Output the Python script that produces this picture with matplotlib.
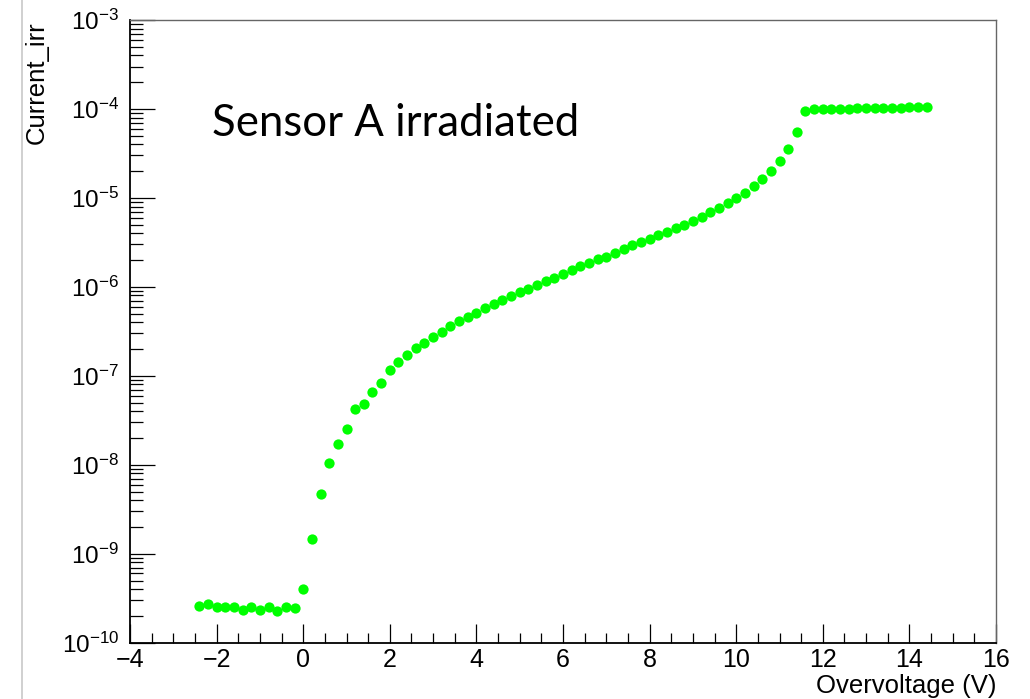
import numpy as np
import matplotlib
matplotlib.use("Agg")
import matplotlib.pyplot as plt
from matplotlib.ticker import LogLocator, MultipleLocator, NullFormatter
from matplotlib.lines import Line2D

# Data
overvoltage = [-2.4, -2.2, -2.0, -1.8, -1.6, -1.4, -1.2, -1.0, -0.8, -0.6, -0.4, -0.2,
               0.0, 0.2, 0.4, 0.6, 0.8, 1.0, 1.2, 1.4, 1.6, 1.8, 2.0, 2.2, 2.4, 2.6, 2.8,
               3.0, 3.2, 3.4, 3.6, 3.8, 4.0, 4.2, 4.4, 4.6, 4.8, 5.0, 5.2, 5.4, 5.6, 5.8,
               6.0, 6.2, 6.4, 6.6, 6.8, 7.0, 7.2, 7.4, 7.6, 7.8, 8.0, 8.2, 8.4, 8.6, 8.8,
               9.0, 9.2, 9.4, 9.6, 9.8, 10.0, 10.2, 10.4, 10.6, 10.8, 11.0, 11.2, 11.4,
               11.6, 11.8, 12.0, 12.2, 12.4, 12.6, 12.8, 13.0, 13.2, 13.4, 13.6, 13.8,
               14.0, 14.2, 14.4]
current_irr = [2.6e-10, 2.75e-10, 2.5e-10, 2.55e-10, 2.55e-10, 2.35e-10, 2.55e-10, 2.35e-10,
               2.55e-10, 2.3e-10, 2.5e-10, 2.45e-10,
               4.0e-10, 1.45e-9, 4.66e-9, 1.06e-8, 1.71e-8, 2.51e-8, 4.2e-8, 4.8e-8, 6.5e-8,
               8.4e-8, 1.16e-7, 1.43e-7, 1.71e-7, 2.04e-7, 2.36e-7,
               2.75e-7, 3.13e-7, 3.63e-7, 4.13e-7, 4.62e-7, 5.13e-7, 5.74e-7, 6.43e-7, 7.13e-7,
               7.89e-7, 8.75e-7, 9.46e-7, 1.04e-6, 1.16e-6, 1.27e-6,
               1.40e-6, 1.55e-6, 1.73e-6, 1.87e-6, 2.06e-6, 2.18e-6, 2.42e-6, 2.64e-6, 2.93e-6,
               3.22e-6, 3.45e-6, 3.83e-6, 4.17e-6, 4.55e-6, 4.96e-6,
               5.50e-6, 6.15e-6, 6.89e-6, 7.76e-6, 8.83e-6, 1.005e-5, 1.145e-5, 1.36e-5, 1.62e-5,
               2.02e-5, 2.62e-5, 3.55e-5, 5.55e-5,
               9.5e-5, 1.0e-4, 1.0e-4, 1.005e-4, 1.01e-4, 1.01e-4, 1.015e-4, 1.02e-4, 1.02e-4,
               1.025e-4, 1.03e-4, 1.035e-4, 1.04e-4, 1.04e-4, 1.045e-4]

x_label = "Overvoltage (V)"
y_label = "Current_irr"
annotation = "Sensor A irradiated"

plt.rcParams['font.family'] = ['Liberation Sans', 'DejaVu Sans']
plt.rcParams['mathtext.default'] = 'regular'

W, H = 1030, 699
fig = plt.figure(figsize=(W / 100, H / 100), dpi=100)
L, R, T, B = 130, 996, 20, 642.7
ax = fig.add_axes([L / W, (H - B) / H, (R - L) / W, (B - T) / H])

ax.plot(overvoltage, current_irr, linestyle='none', marker='o', ms=7.4,
        color='#00ff00', markeredgewidth=0)

ax.set_yscale('log')
ax.set_xlim(-4, 16)
ax.set_ylim(1e-10, 1e-3)

ax.xaxis.set_major_locator(MultipleLocator(2))
ax.xaxis.set_minor_locator(MultipleLocator(0.5))
ax.yaxis.set_major_locator(LogLocator(base=10, numticks=20))
ax.yaxis.set_minor_locator(LogLocator(base=10, subs=np.arange(2, 10), numticks=20))
ax.yaxis.set_minor_formatter(NullFormatter())

ax.tick_params(axis='x', which='major', direction='in', length=13.9, width=0.9,
               labelsize=18, pad=4, top=False, color='black')
ax.tick_params(axis='x', which='minor', direction='in', length=7.2, width=0.9, top=False)
ax.tick_params(axis='y', which='major', direction='in', length=18, width=0.9,
               labelsize=17.5, pad=8, right=False)
ax.tick_params(axis='y', which='minor', direction='in', length=9, width=0.9, right=False)

for s in ['left', 'bottom']:
    ax.spines[s].set_linewidth(1.3)
    ax.spines[s].set_color('black')
for s in ['top', 'right']:
    ax.spines[s].set_linewidth(1.0)
    ax.spines[s].set_color('#666666')

ax.set_xlabel(x_label, fontsize=18.5, loc='right')
ax.xaxis.label.set_verticalalignment('baseline')
ax.xaxis.set_label_coords(1.0, (B - 693) / (B - T))
ax.set_ylabel(y_label, fontsize=18.5, loc='top')
ax.yaxis.set_label_coords(-0.094, 0.997)

fig.text(212 / W, (H - 136) / H, annotation, fontsize=31.5, family=['Lato', 'DejaVu Sans'],
         ha='left', va='baseline', color='black')

fig.add_artist(Line2D([21.5 / W, 21.5 / W], [0, 1], color='#c8c8c8', lw=1.2,
                      transform=fig.transFigure))

fig.savefig('out.png', dpi=100)
